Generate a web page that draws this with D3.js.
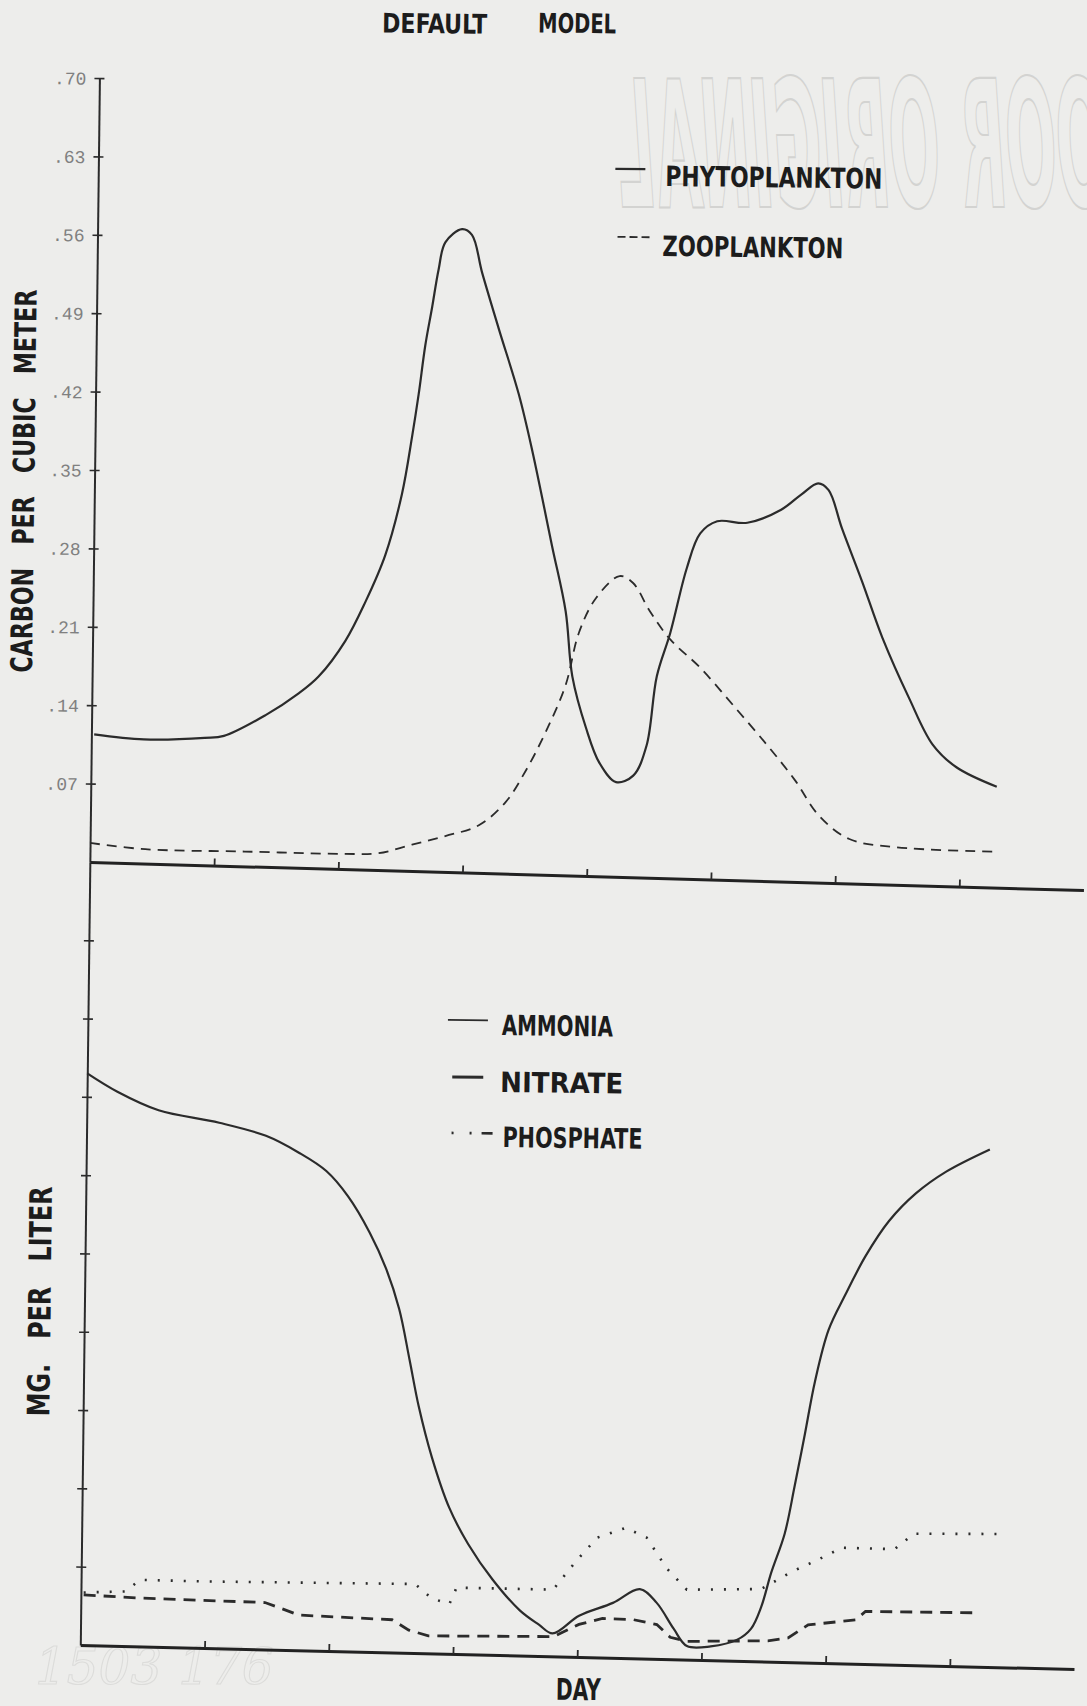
<!DOCTYPE html>
<html>
<head>
<meta charset="utf-8">
<script src="https://cdn.jsdelivr.net/npm/d3@7"></script>
<style>
html,body{margin:0;padding:0;background:#ededeb;}
svg{display:block;}
.lbl{font-family:"DejaVu Sans Condensed","Liberation Sans Narrow",sans-serif;font-weight:bold;fill:#1c1c1c;white-space:pre;}
.tk{font-family:"Liberation Mono","DejaVu Sans Mono",monospace;fill:#808080;}
</style>
</head>
<body>
<script>
// day, carbon (upper panel)
const phytoplankton=[
  [1,0.114],[19,0.110],[41,0.112],[48,0.114],[63,0.133],[75,0.153],[82,0.168],[91.5,0.200],
  [98.6,0.235],[105.6,0.277],[111.4,0.332],[114.8,0.383],[117,0.421],[119.2,0.465],[121.5,0.499],
  [123.7,0.533],[126,0.557],[132,0.569],[135.6,0.564],[139.5,0.530],[145.8,0.480],[153.3,0.422],
  [158.4,0.372],[166,0.287],[171.2,0.229],[173.9,0.171],[179.1,0.125],[184.1,0.094],[190.2,0.077],
  [196.4,0.083],[201.1,0.110],[204.5,0.172],[209.2,0.211],[214.9,0.269],[219.6,0.300],[225.7,0.311],
  [236.6,0.310],[248.8,0.322],[256.1,0.336],[262.1,0.346],[265.9,0.340],[270.9,0.306],[278.4,0.259],
  [286,0.209],[296,0.155],[304.7,0.114],[313.4,0.094],[328.1,0.077]
]
const zooplankton=[
  [0,0.017],[20,0.012],[56,0.011],[92,0.010],[104.5,0.011],[116.6,0.019],[128.6,0.027],[140.7,0.037],
  [150.3,0.058],[157.4,0.086],[164.5,0.121],[171.5,0.163],[176.1,0.210],[182.1,0.241],[190.6,0.261],
  [195.5,0.255],[201.7,0.230],[209.2,0.205],[220.2,0.180],[232.6,0.146],[245,0.111],[254.9,0.081],
  [263.6,0.050],[274.7,0.029],[291.8,0.022],[328.4,0.019]
]
// day, mg per liter (lower panel, unlabelled scale)
const ammonia=[
  [0,0.730],[11,0.707],[26,0.684],[48,0.669],[65,0.653],[77,0.632],[87,0.609],[95,0.577],[103,0.531],
  [109,0.486],[114,0.434],[118,0.369],[121.5,0.310],[126.5,0.245],[133,0.181],[140,0.135],[149,0.090],
  [159,0.051],[166,0.033],[171,0.022],[180.5,0.045],[192.7,0.062],[202.4,0.080],[208.5,0.063],
  [214.8,0.030],[219.7,0.008],[228.3,0.008],[237.9,0.017],[242.8,0.031],[246.4,0.059],[249.9,0.103],
  [254.6,0.153],[258,0.214],[261.5,0.281],[264.9,0.348],[269.6,0.414],[275.5,0.459],[282.7,0.509],
  [291,0.554],[300.7,0.590],[311.5,0.618],[327.2,0.647]
]
const nitrate=[
  [1,0.064],[20,0.061],[42.5,0.059],[66.7,0.057],[74,0.048],[79,0.0415],[112.8,0.037],[118.9,0.024],
  [126,0.017],[171.4,0.018],[180.5,0.034],[189,0.042],[200,0.041],[208.7,0.035],[213.6,0.019],
  [219.7,0.014],[249,0.016],[256.3,0.020],[263.5,0.037],[280.6,0.044],[284.2,0.055],[323.2,0.055]
]
const phosphate=[
  [1,0.067],[16,0.069],[21.4,0.084],[45,0.083],[121,0.083],[127,0.065],[133.5,0.058],[136,0.079],
  [171,0.078],[179,0.114],[186.7,0.145],[197,0.158],[204.6,0.146],[212,0.107],[219.4,0.080],
  [246.3,0.082],[257.6,0.105],[266.6,0.120],[275.4,0.136],[294.5,0.135],[301.3,0.155],[331.7,0.156]
]
const carbonTicks=[0.07,0.14,0.21,0.28,0.35,0.42,0.49,0.56,0.63,0.70]
const mgTicks=[0.1,0.2,0.3,0.4,0.5,0.6,0.7,0.8,0.9]
const dayTicks=[45,90,135,180,225,270,315]

const width=1087
const height=1706
const ink='#2b2b2b'

const svg=d3.select('body').append('svg').attr('width',width).attr('height',height)
svg.append('rect').attr('width',width).attr('height',height).attr('fill','#ededeb')

// show-through stamp from the back of the sheet (mirrored), and pencil note
svg.append('text').attr('transform','translate(1150,207) scale(-1,2.68)')
   .attr('font-family','DejaVu Sans Condensed').attr('font-weight','bold').attr('font-style','italic')
   .attr('font-size',66)
   .attr('fill','none').attr('stroke','#d3d3d1').attr('stroke-width',0.8)
   .text('POOR ORIGINAL')
svg.append('text').attr('x',35).attr('y',1684)
   .attr('font-family','DejaVu Serif').attr('font-style','italic').attr('font-size',50)
   .attr('fill','none').attr('stroke','#dcdcda').attr('stroke-width',1.1)
   .text('1503 176')

// the scan is turned slightly clockwise
const g=svg.append('g').attr('transform','rotate(0.7,92,850)')

const xScale=d3.scaleLinear().domain([0,360]).range([90,1084])
const yTop=d3.scaleLinear().domain([0,0.70]).range([862,78])
const yBot=d3.scaleLinear().domain([0,1]).range([1645,862])

// y axes
const topYAxis=d3.axisLeft(yTop).tickValues(carbonTicks)
   .tickFormat(d=>d3.format('.2f')(d).replace(/^0/,''))
   .tickSize(5).tickSizeOuter(0).tickPadding(8)
const gyTop=g.append('g').attr('transform','translate('+xScale(0)+',0)').call(topYAxis)
const botYAxis=d3.axisLeft(yBot).tickValues(mgTicks).tickFormat('').tickSize(5).tickSizeOuter(0)
const gyBot=g.append('g').attr('transform','translate('+xScale(0)+',0)').call(botYAxis)
;[gyTop,gyBot].forEach(a=>{
  a.select('.domain').attr('stroke',ink).attr('stroke-width',2)
  a.selectAll('.tick line').attr('x1',5).attr('stroke',ink).attr('stroke-width',1.6)
})
gyTop.selectAll('.tick text').attr('class','tk').attr('font-size',18).attr('dy','0.35em')

// x axes (drawn a little askew on the plot)
const xAxis=d3.axisBottom(xScale).tickValues(dayTicks).tickSize(-7).tickSizeOuter(0).tickFormat('')
const gxTop=g.append('g').attr('transform','translate(0,'+yTop(0)+') rotate(0.92,90,0)').call(xAxis)
const gxBot=g.append('g').attr('transform','translate(0,'+yBot(0)+') rotate(0.69,90,0)').call(xAxis)
;[gxTop,gxBot].forEach(a=>{
  a.select('.domain').attr('stroke','#222').attr('stroke-width',3)
  a.selectAll('.tick line').attr('stroke',ink).attr('stroke-width',1.8)
})

// series
const smooth=d3.curveCatmullRom.alpha(0.5)
const lineTop=d3.line().x(d=>xScale(d[0])).y(d=>yTop(d[1]))
const lineBot=d3.line().x(d=>xScale(d[0])).y(d=>yBot(d[1]))
g.append('path').datum(phytoplankton).attr('d',lineTop.curve(smooth))
   .attr('fill','none').attr('stroke',ink).attr('stroke-width',2.2)
g.append('path').datum(zooplankton).attr('d',lineTop.curve(smooth))
   .attr('fill','none').attr('stroke',ink).attr('stroke-width',1.8).attr('stroke-dasharray','10,7')
g.append('path').datum(ammonia).attr('d',lineBot.curve(smooth))
   .attr('fill','none').attr('stroke',ink).attr('stroke-width',2.2)
g.append('path').datum(nitrate).attr('d',lineBot.curve(d3.curveLinear))
   .attr('fill','none').attr('stroke',ink).attr('stroke-width',2.8).attr('stroke-dasharray','12,8')
g.append('path').datum(phosphate).attr('d',lineBot.curve(d3.curveLinear))
   .attr('fill','none').attr('stroke',ink).attr('stroke-width',2.6).attr('stroke-dasharray','2,11')

// texts
const label=(txt,x,y,size,len,rot)=>{
  const t=g.append('text').attr('class','lbl').attr('x',x).attr('y',y).attr('font-size',size)
     .attr('textLength',len).attr('lengthAdjust','spacingAndGlyphs').text(txt)
  if(rot){t.attr('text-anchor','middle').attr('dy','0.36em').attr('transform','rotate(-90,'+x+','+y+')')}
  return t
}
label('DEFAULT',372,29,27,105)
label('MODEL',528,27,27,78)
label('CARBON   PER   CUBIC   METER',19,482,30,383,true)
label('MG.   PER   LITER',45,1302,31,230,true)
label('DAY',566,1694,30,45)

// legends
const legend=[
  {name:'PHYTOPLANKTON',x1:607,x2:637,ly:162.5,tx:657,ty:179,len:217,w:2.2,dash:null},
  {name:'ZOOPLANKTON',x1:610,x2:642,ly:230.5,tx:655,ty:249,len:181,w:1.8,dash:'8,4'},
  {name:'AMMONIA',x1:450,x2:490,ly:1015.5,tx:504,ty:1030,len:111,w:1.6,dash:null},
  {name:'NITRATE',x1:455,x2:486,ly:1072.5,tx:503,ty:1087,len:123,w:3,dash:null},
  {name:'PHOSPHATE',x1:455,x2:496,ly:1128.5,tx:506,ty:1142,len:140,w:2.6,dash:'2,16,2,10,11'}
]
legend.forEach(d=>{
  const l=g.append('line').attr('x1',d.x1).attr('x2',d.x2).attr('y1',d.ly).attr('y2',d.ly)
     .attr('stroke',ink).attr('stroke-width',d.w)
  if(d.dash) l.attr('stroke-dasharray',d.dash)
  label(d.name,d.tx,d.ty,28,d.len)
})
</script>
</body>
</html>
